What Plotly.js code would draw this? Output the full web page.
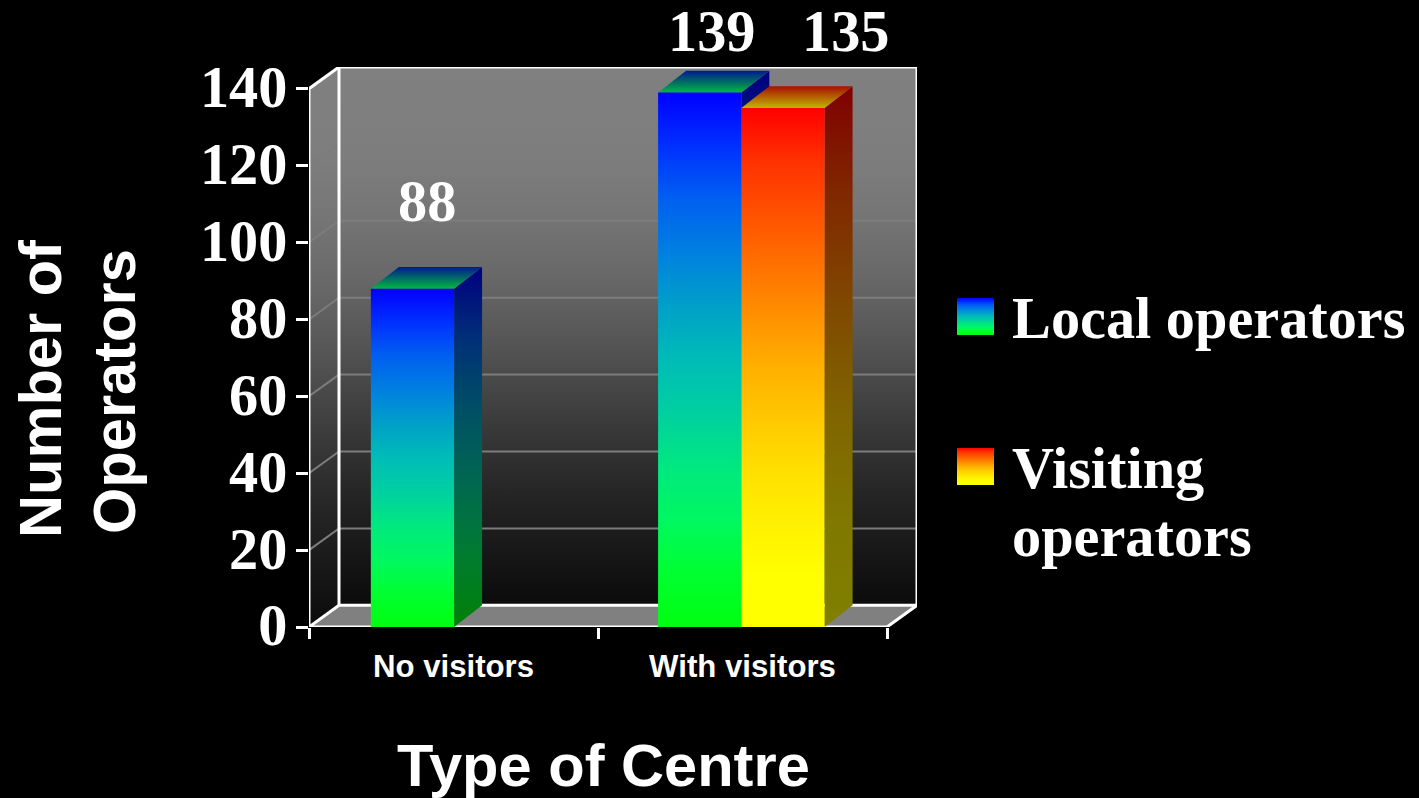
<!DOCTYPE html>
<html>
<head>
<meta charset="utf-8">
<script src="https://cdn.plot.ly/plotly-3.0.1.min.js"></script>
<style>html,body{margin:0;padding:0;background:#000;overflow:hidden}</style>
</head>
<body>
<div id="chart" style="width:1419px;height:798px"></div>
<script>
const categories = ['No visitors', 'With visitors'];
const categoryPositions = [0.5, 1.5];
const localValues = [88, 139];
const visitingValues = [null, 135];
const yTicks = [0, 20, 40, 60, 80, 100, 120, 140];
const seriesNames = ['Local operators', 'Visiting operators'];

const W = 1419, H = 798;
const plotL = 309, plotR = 917, plotT = 67, plotB = 627;
const xMax = 2 + 30 / 289, yMax = (plotB - plotT) / 3.845;
const dx = xMax - 2, dy = yMax - 140;
const barDx = 28 / 289;
const barW = 0.288, BARGAP = 1 - 2 * barW;
const groupShift = [0.002, -0.004];
const barCentres = categoryPositions.map((c, i) => c + groupShift[i]);

const SERIF = '"Liberation Serif", serif', SANS = '"Liberation Sans", sans-serif';
const localFront = [[0,'#00ff10'],[0.1,'#00ff30'],[0.2,'#00f860'],[0.3,'#00e880'],[0.4,'#00d0a0'],[0.5,'#00bcb8'],
  [0.6,'#00a0c8'],[0.7,'#0080e0'],[0.8,'#0060f0'],[0.9,'#0030ff'],[1,'#0000ff']];
const localSide = [[0,'#008008'],[0.2,'#007c30'],[0.4,'#006850'],[0.6,'#005064'],[0.8,'#003078'],[1,'#000080']];
const localTop = [[0,'#00b840'],[1,'#001a90']];
const visitFront = [[0,'#ffff00'],[0.1,'#ffff00'],[0.2,'#fff000'],[0.3,'#ffe000'],[0.4,'#ffc800'],[0.5,'#ffb000'],
  [0.6,'#ff9000'],[0.7,'#ff7000'],[0.8,'#ff5000'],[0.9,'#ff3000'],[1,'#ff0000']];
const visitSide = [[0,'#808000'],[0.2,'#807800'],[0.4,'#806400'],[0.6,'#804800'],[0.8,'#802800'],[1,'#800000']];
const visitTop = [[0,'#c0b400'],[1,'#a81000']];
const wallScale = [[0,'#0b0b0b'],[0.2,'#242424'],[0.336,'#3a3a3a'],[0.47,'#525252'],[0.61,'#686868'],[0.735,'#767676'],[0.83,'#7d7d7d'],[1,'#808080']];

function poly(xs, ys, scale, axes){
  return Object.assign({type:'scatter', mode:'none', x:xs.concat(xs[0]), y:ys.concat(ys[0]),
    fill:'toself', fillcolor:'rgba(0,0,0,0)', fillgradient:{type:'vertical', colorscale:scale}, hoverinfo:'skip', showlegend:false}, axes||{});
}
function lineTrace(xs, ys, color, width, axes){
  return Object.assign({type:'scatter', mode:'lines', x:xs, y:ys, line:{color:color, width:width},
    hoverinfo:'skip', showlegend:false, connectgaps:false}, axes||{});
}
const base = {xaxis:'x2', yaxis:'y2'};

// walls, floor and gridlines (bottom subplot)
const gridX = [], gridY = [];
yTicks.slice(1).forEach(v => { gridX.push(0, dx, 2 + dx, null); gridY.push(v, v + dy, v + dy, null); });
const baseTraces = [
  poly([dx, 2 + dx, 2 + dx, dx], [dy, dy, yMax, yMax], wallScale, base),
  poly([0, dx, dx, 0], [0, dy, yMax, 140], wallScale, base),
  lineTrace(gridX.slice(0, -4), gridY.slice(0, -4), '#7c7c7c', 2, base),
  Object.assign({type:'scatter', mode:'lines', x:[0, dx, 2 + dx, 2, 0], y:[0, dy, dy, 0, 0], fill:'toself',
    fillcolor:'#808080', line:{color:'#ffffff', width:3}, hoverinfo:'skip', showlegend:false}, base),
  lineTrace([0, 0, dx, dx, null, dx, 2 + dx, 2 + dx], [0, 140, yMax, dy, null, yMax, yMax, dy], '#ffffff', 3, base)
];

// native bars
const barTraces = [
  {type:'bar', name:seriesNames[0], x:barCentres, y:localValues, marker:{color:'#00a0c0', line:{width:0}}, showlegend:false},
  {type:'bar', name:seriesNames[1], x:barCentres, y:visitingValues, marker:{color:'#ffa000', line:{width:0}}, showlegend:false}
];

// shaded prism faces, computed from the values through the axes
function prism(x0, v, front, side, top){
  const x1 = x0 + barW;
  return [
    poly([x1, x1 + barDx, x1 + barDx, x1], [0, dy, v + dy, v], side),
    poly([x0, x1, x1 + barDx, x0 + barDx], [v, v, v + dy, v + dy], top),
    poly([x0, x1, x1, x0], [0, 0, v, v], front)
  ];
}
let faces = [];
barCentres.forEach((c, i) => {
  if (localValues[i] != null) faces = faces.concat(prism(c - barW, localValues[i], localFront, localSide, localTop));
  if (visitingValues[i] != null) faces = faces.concat(prism(c, visitingValues[i], visitFront, visitSide, visitTop));
});

// legend swatches in a page-sized overlay
const page = {xaxis:'x3', yaxis:'y3'};
const swatches = [
  poly([957, 994, 994, 957], [335, 335, 298, 298], localFront, page),
  poly([957, 994, 994, 957], [485, 485, 448, 448], visitFront, page)
];

const labelFont = {family:SERIF, size:58.3, color:'#ffffff'};
const titleFont = {family:SANS, size:59.6, color:'#ffffff'};
function note(text, x, y, font, extra){
  return Object.assign({text:'<b>' + text + '</b>', x:x, y:y, showarrow:false, font:font,
    xref:'x3', yref:'y3', xanchor:'left', yanchor:'middle'}, extra||{});
}
const dataRef = {xref:'x', yref:'y', xanchor:'center', yanchor:'middle'};
const centred = {xanchor:'center', yanchor:'middle'};
const annotations = [
  note(String(localValues[0]), barCentres[0] - barW / 2 + 0.049, localValues[0] + 22.6, labelFont, dataRef),
  note(String(localValues[1]), barCentres[1] - barW / 2 + 0.041, yMax, labelFont, Object.assign({yshift:36}, dataRef)),
  note(String(visitingValues[1]), barCentres[1] + barW / 2 + 0.217, yMax, labelFont, Object.assign({yshift:36}, dataRef)),
  note('Local operators', 1010, 318, labelFont),
  note('Visiting', 1010, 468, labelFont),
  note('operators', 1010, 536, labelFont),
  note('Type of Centre', 603, 765, titleFont, centred),
  note('Number of', 40, 389, titleFont, Object.assign({textangle:-90}, centred)),
  note('Operators', 114, 392, titleFont, Object.assign({textangle:-90}, centred))
];

const sharedRangeX = [0, xMax], sharedRangeY = [0, yMax];
const domX = [plotL / W, plotR / W], domY = [(H - plotB) / H, (H - plotT) / H];
const layout = {
  width:W, height:H, margin:{l:0, r:0, t:0, b:0},
  paper_bgcolor:'#000000', plot_bgcolor:'rgba(0,0,0,0)',
  barmode:'group', bargap:BARGAP, bargroupgap:0, showlegend:false,
  xaxis:{overlaying:'x2', anchor:'y', domain:domX, range:sharedRangeX, tickmode:'array', tickvals:categoryPositions, ticktext:categories,
    ticks:'', showgrid:false, zeroline:false, showline:false, ticklabelstandoff:18,
    tickfont:{family:SANS, size:31.2, color:'#ffffff', weight:'bold'},
    minor:{tickmode:'array', tickvals:[0,1,2], ticks:'outside', ticklen:11, tickwidth:3, tickcolor:'#ffffff', showgrid:false}},
  yaxis:{overlaying:'y2', anchor:'x', domain:domY, range:sharedRangeY, tickmode:'array', tickvals:yTicks,
    ticks:'outside', ticklen:12, tickwidth:3, tickcolor:'#ffffff', showgrid:false, zeroline:false, showline:false,
    ticklabelstandoff:-3, ticklabelshift:-2,
    tickfont:{family:SERIF, size:58.3, color:'#ffffff', weight:'bold'}},
  xaxis2:{domain:domX, anchor:'y2', range:sharedRangeX, visible:false},
  yaxis2:{domain:domY, anchor:'x2', range:sharedRangeY, visible:false},
  xaxis3:{domain:[0,1], anchor:'y3', range:[0,W], visible:false},
  yaxis3:{domain:[0,1], anchor:'x3', range:[H,0], visible:false},
  annotations:annotations
};
Plotly.newPlot('chart', baseTraces.concat(barTraces, faces, swatches), layout, {displayModeBar:false, staticPlot:true});
</script>
</body>
</html>
